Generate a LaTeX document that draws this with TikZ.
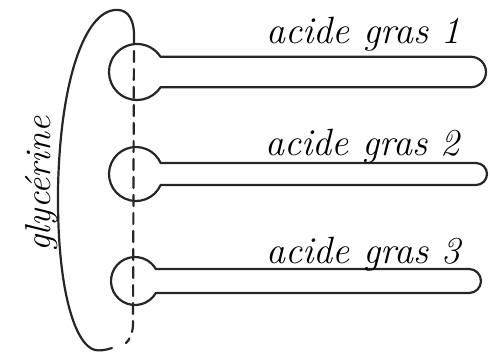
\documentclass[tikz,border=0pt]{standalone}
\usepackage{tikz}

\begin{document}
\begin{tikzpicture}[
        x=1pt, y=-1pt,
        % define styles
        sketch/.style={
            draw=black!85,
            line width=2.2pt,
            line cap=round,
            line join=round
        },
        axis line/.style={
            sketch,
            dash pattern=on 11pt off 7pt
        },
        acid/.style={
            font=\fontsize{38}{40}\selectfont\itshape,
            anchor=base west,
            inner sep=0pt
        }
    ]
    \useasboundingbox (0,0) rectangle (490,354);

    % heads and tails: index / centre x / centre y / radius / opening angle / tail end
    \foreach \i/\cx/\cy/\R/\a/\xe in {1/137/72/28/33/486,
                                      2/136/174/27/24/487,
                                      3/135/281/24/30/481} {
        \coordinate (head\i) at (\cx,\cy);
        \pgfmathsetmacro\w{\R*sin(\a)}
        \pgfmathsetmacro\L{\xe-\w-\cx-\R*cos(\a)}
        \draw[sketch] (head\i) ++(\a:\R)
            arc[start angle=\a, end angle=360-\a, radius=\R]
            -- ++(\L,0)
            arc[start angle=-90, end angle=90, radius=\w]
            -- cycle;
    }

    % fatty acid labels
    \node[acid] (acid1) at (266,43)  {acide gras 1};
    \node[acid] (acid2) at (265,155) {acide gras 2};
    \node[acid] (acid3) at (266,263) {acide gras 3};

    % dashed axis through the heads
    \coordinate (axistop) at (134,33);
    \coordinate (axisbot) at (126,343);
    \draw[axis line] (axistop) -- (133,326)
        .. controls (132,336) and (129,340) .. (axisbot);

    % bracket round the glycerol part
    \draw[sketch] (axistop) .. controls (133,15) and (125,9) .. (115,10)
        .. controls (85,12) and (60,80) .. (58,190)
        .. controls (57,290) and (75,345) .. (95,350)
        .. controls (100,351) and (106,350) .. (112,348);

    \node[rotate=90, font=\fontsize{36}{38}\selectfont\itshape, inner sep=0pt]
        (glycerine) at (42,184) {glycérine};
\end{tikzpicture}
\end{document}
